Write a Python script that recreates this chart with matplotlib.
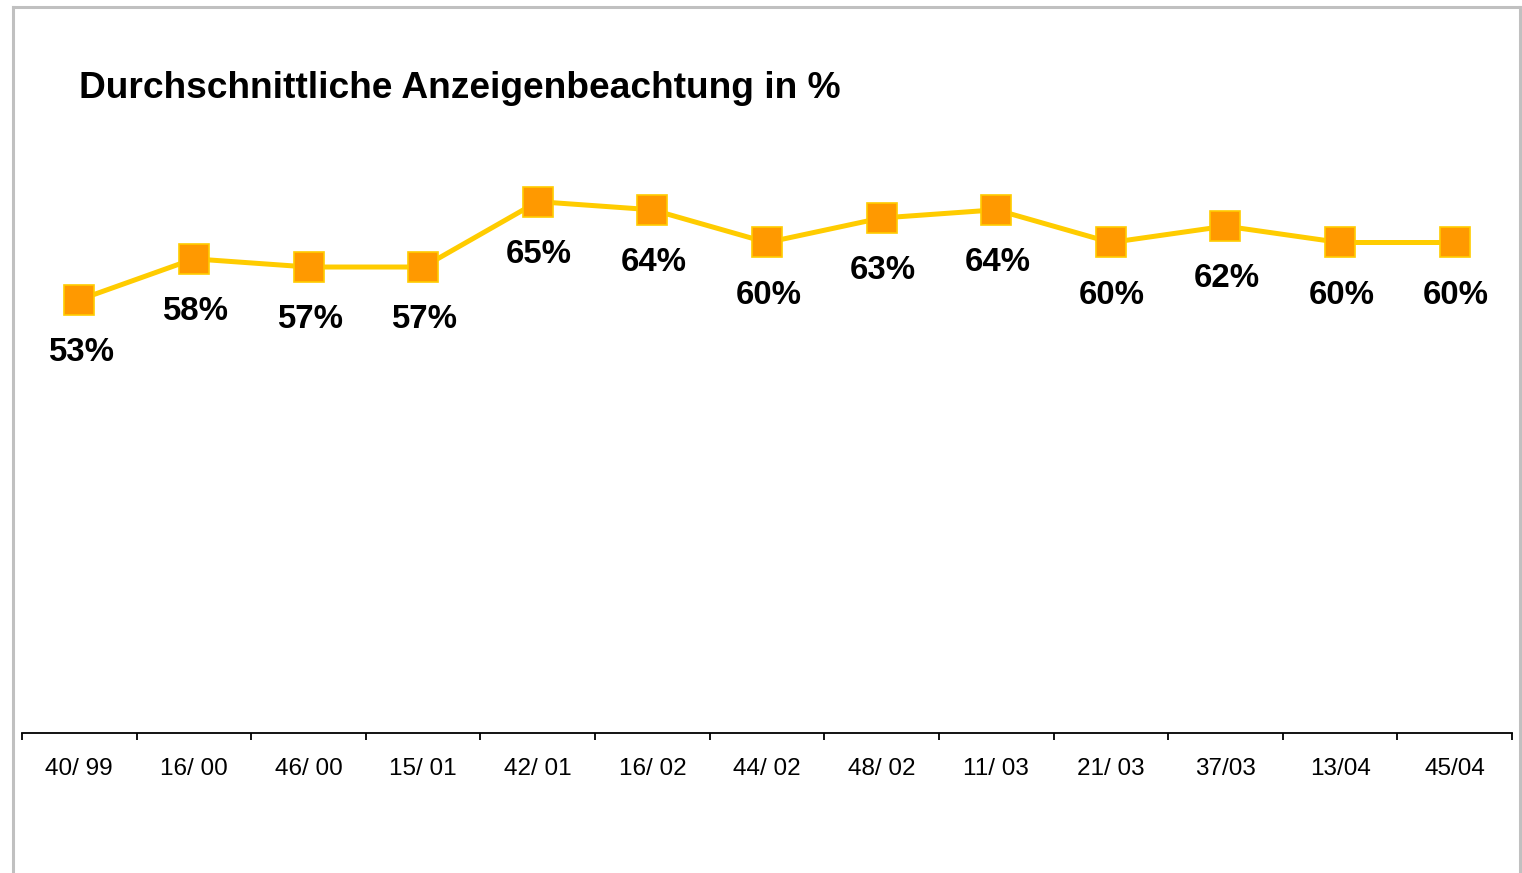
import matplotlib
matplotlib.use("Agg")
import matplotlib.pyplot as plt
from matplotlib.lines import Line2D

categories = ["40/ 99", "16/ 00", "46/ 00", "15/ 01", "42/ 01", "16/ 02", "44/ 02",
              "48/ 02", "11/ 03", "21/ 03", "37/03", "13/04", "45/04"]
values = [53, 58, 57, 57, 65, 64, 60, 63, 64, 60, 62, 60, 60]
title = "Durchschnittliche Anzeigenbeachtung in %"

W, H = 1522, 873
plt.rcParams['font.family'] = ['Liberation Sans', 'DejaVu Sans']
fig = plt.figure(figsize=(W / 100, H / 100), dpi=100)
fig.patch.set_facecolor('white')

# outer frame
frame_col = '#C0C0C0'
fig.add_artist(Line2D([13 / W, 13 / W], [0, 1 - 7 / H], color=frame_col, lw=2.2, transform=fig.transFigure))
fig.add_artist(Line2D([13 / W, 1520 / W], [1 - 7 / H, 1 - 7 / H], color=frame_col, lw=2.2, transform=fig.transFigure))
fig.add_artist(Line2D([1520 / W, 1520 / W], [0, 1 - 7 / H], color=frame_col, lw=2.2, transform=fig.transFigure))

left, right = 22 / W, 1512 / W
bottom = 1 - 733 / H
top = 1 - 79 / H
ax = fig.add_axes([left, bottom, right - left, top - bottom])
ax.set_facecolor('none')

x = list(range(len(categories)))
ax.plot(x, values, color='#FFCC00', lw=3.6, marker='s', markersize=21,
        markerfacecolor='#FF9900', markeredgecolor='#FFCC00', markeredgewidth=1.2,
        zorder=3, clip_on=False)

for xi, v in zip(x, values):
    ax.annotate(f"{v}%", (xi, v), xytext=(1, -38), textcoords='offset points',
                ha='center', va='center', fontsize=23.8, fontweight='bold', color='black')

ax.set_xlim(-0.5, len(categories) - 0.5)
ax.set_ylim(0, 80)
for s in ['top', 'right', 'left']:
    ax.spines[s].set_visible(False)
ax.spines['bottom'].set_linewidth(1.3)
ax.set_yticks([])
ax.set_xticks([i - 0.5 for i in range(len(categories) + 1)])
ax.set_xticklabels([])
ax.tick_params(axis='x', which='major', length=5, width=1.3, direction='out')
ax.set_xticks(x, minor=True)
ax.set_xticklabels(categories, minor=True, fontsize=17.5)
ax.tick_params(axis='x', which='minor', length=0, pad=18)

fig.text(79 / W, 1 - 89 / H, title, fontsize=26.7, fontweight='bold', ha='left', va='center')

fig.savefig('out.png', dpi=100)
